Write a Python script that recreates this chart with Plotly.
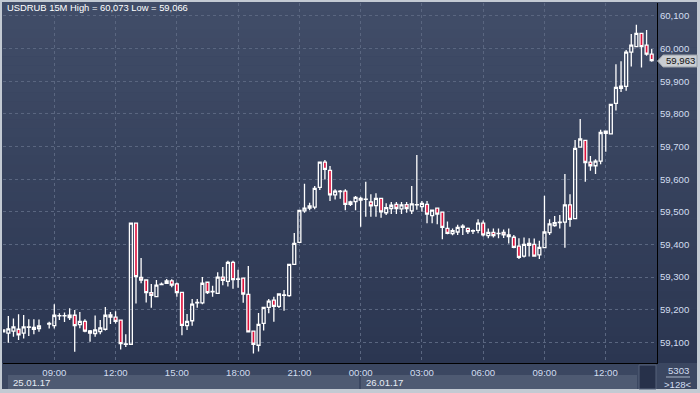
import plotly.graph_objects as go

# ---------------- data ----------------
bar_times = [
    # 25.01.17
    "25 06:30", "25 06:45", "25 07:00", "25 07:15", "25 07:30", "25 07:45", "25 08:00", "25 08:15", "25 08:45",
    "25 09:00", "25 09:15", "25 09:30", "25 09:45", "25 10:00", "25 10:15", "25 10:30", "25 10:45", "25 11:00", "25 11:15", "25 11:30", "25 11:45",
    "25 12:00", "25 12:15", "25 12:30", "25 12:45", "25 13:00", "25 13:15", "25 13:30", "25 13:45", "25 14:00", "25 14:15", "25 14:30", "25 14:45",
    "25 15:00", "25 15:15", "25 15:30", "25 15:45", "25 16:00", "25 16:15", "25 16:30", "25 16:45", "25 17:00", "25 17:15", "25 17:30", "25 17:45",
    "25 18:00", "25 18:15", "25 18:30", "25 18:45", "25 19:00", "25 19:15", "25 19:30", "25 19:45", "25 20:00", "25 20:15", "25 20:30", "25 20:45",
    "25 21:00", "25 21:15", "25 21:30", "25 21:45", "25 22:00", "25 22:15", "25 22:30", "25 22:45", "25 23:00", "25 23:15", "25 23:30", "25 23:45",
    # 26.01.17
    "26 00:00", "26 00:15", "26 00:30", "26 00:45", "26 01:00", "26 01:15", "26 01:30", "26 01:45", "26 02:00", "26 02:15", "26 02:30", "26 02:45",
    "26 03:00", "26 03:15", "26 03:30", "26 03:45", "26 04:00", "26 04:15", "26 04:30", "26 04:45", "26 05:00", "26 05:15", "26 05:30", "26 05:45",
    "26 06:00", "26 06:15", "26 06:30", "26 06:45", "26 07:00", "26 07:15", "26 07:30", "26 07:45", "26 08:00", "26 08:15", "26 08:30", "26 08:45",
    "26 09:00", "26 09:15", "26 09:30", "26 09:45", "26 10:00", "26 10:15", "26 10:30", "26 10:45", "26 11:00", "26 11:15", "26 11:30", "26 11:45",
    "26 12:00", "26 12:15", "26 12:30", "26 12:45", "26 13:00", "26 13:15", "26 13:30", "26 13:45", "26 14:00", "26 14:15",
]

opens = [
    59.138, 59.128, 59.134, 59.140, 59.128, 59.146, 59.146, 59.142, 59.156,
    59.151, 59.181, 59.181, 59.183, 59.183, 59.154, 59.164, 59.135, 59.127, 59.133, 59.140, 59.184,
    59.177, 59.168, 59.094, 59.094, 59.465, 59.299, 59.291, 59.252, 59.240, 59.277, 59.281, 59.288,
    59.279, 59.253, 59.151, 59.166, 59.221, 59.221, 59.284, 59.255, 59.250, 59.300, 59.287, 59.345,
    59.293, 59.297, 59.247, 59.134, 59.091, 59.158, 59.207, 59.229, 59.210, 59.244, 59.243, 59.339,
    59.406, 59.503, 59.511, 59.514, 59.575, 59.652, 59.627, 59.552, 59.562, 59.563, 59.523, 59.531,
    59.541, 59.538, 59.530, 59.519, 59.541, 59.497, 59.510, 59.523, 59.509, 59.522, 59.503, 59.521,
    59.516, 59.523, 59.488, 59.511, 59.499, 59.449, 59.433, 59.438, 59.456, 59.449, 59.441, 59.443,
    59.465, 59.427, 59.437, 59.433, 59.437, 59.429, 59.422, 59.395, 59.364, 59.403, 59.400, 59.368,
    59.390, 59.436, 59.458, 59.467, 59.468, 59.521, 59.479, 59.698, 59.719, 59.652, 59.641, 59.655,
    59.747, 59.739, 59.832, 59.878, 59.884, 59.989, 60.006, 60.047, 60.011, 59.983,
]

highs = [
    59.140, 59.181, 59.173, 59.186, 59.184, 59.171, 59.171, 59.170, 59.163,
    59.217, 59.189, 59.191, 59.204, 59.199, 59.193, 59.171, 59.138, 59.182, 59.168, 59.208, 59.193,
    59.195, 59.169, 59.125, 59.465, 59.465, 59.358, 59.291, 59.279, 59.291, 59.283, 59.294, 59.293,
    59.283, 59.253, 59.187, 59.233, 59.233, 59.300, 59.284, 59.273, 59.315, 59.331, 59.350, 59.350,
    59.322, 59.297, 59.334, 59.134, 59.190, 59.209, 59.233, 59.240, 59.250, 59.260, 59.339, 59.435,
    59.504, 59.586, 59.528, 59.579, 59.652, 59.659, 59.640, 59.569, 59.567, 59.569, 59.534, 59.548,
    59.546, 59.592, 59.554, 59.557, 59.541, 59.526, 59.530, 59.530, 59.530, 59.530, 59.579, 59.674,
    59.533, 59.533, 59.505, 59.511, 59.499, 59.470, 59.449, 59.460, 59.462, 59.452, 59.446, 59.477,
    59.473, 59.449, 59.449, 59.449, 59.446, 59.449, 59.429, 59.419, 59.421, 59.419, 59.418, 59.411,
    59.549, 59.477, 59.487, 59.490, 59.616, 59.554, 59.720, 59.784, 59.719, 59.671, 59.661, 59.751,
    59.747, 59.829, 59.952, 59.961, 59.996, 60.045, 60.073, 60.047, 60.057, 59.999,
]

lows = [
    59.130, 59.099, 59.117, 59.107, 59.112, 59.119, 59.125, 59.132, 59.142,
    59.142, 59.168, 59.162, 59.168, 59.071, 59.143, 59.131, 59.102, 59.117, 59.125, 59.136, 59.156,
    59.158, 59.078, 59.086, 59.094, 59.219, 59.281, 59.222, 59.206, 59.240, 59.275, 59.279, 59.269,
    59.240, 59.122, 59.138, 59.151, 59.206, 59.217, 59.248, 59.240, 59.250, 59.275, 59.271, 59.264,
    59.267, 59.221, 59.130, 59.066, 59.072, 59.136, 59.189, 59.163, 59.205, 59.197, 59.240, 59.339,
    59.406, 59.497, 59.505, 59.508, 59.567, 59.599, 59.533, 59.538, 59.540, 59.505, 59.518, 59.505,
    59.454, 59.485, 59.485, 59.485, 59.482, 59.490, 59.493, 59.493, 59.493, 59.497, 59.493, 59.506,
    59.500, 59.465, 59.465, 59.462, 59.416, 59.431, 59.428, 59.429, 59.429, 59.432, 59.432, 59.434,
    59.424, 59.419, 59.421, 59.419, 59.420, 59.403, 59.388, 59.355, 59.360, 59.363, 59.363, 59.355,
    59.390, 59.429, 59.454, 59.449, 59.390, 59.454, 59.479, 59.698, 59.592, 59.626, 59.616, 59.646,
    59.684, 59.739, 59.810, 59.867, 59.871, 59.945, 60.006, 59.942, 59.978, 59.960,
]

closes = [
    59.132, 59.141, 59.147, 59.123, 59.147, 59.147, 59.140, 59.150, 59.158,
    59.183, 59.182, 59.182, 59.176, 59.151, 59.164, 59.134, 59.128, 59.138, 59.144, 59.183, 59.177,
    59.164, 59.096, 59.095, 59.465, 59.301, 59.291, 59.252, 59.244, 59.275, 59.278, 59.288, 59.275,
    59.252, 59.152, 59.164, 59.217, 59.222, 59.281, 59.252, 59.256, 59.300, 59.290, 59.345, 59.292,
    59.294, 59.248, 59.132, 59.094, 59.155, 59.207, 59.226, 59.210, 59.248, 59.245, 59.339, 59.403,
    59.504, 59.511, 59.518, 59.572, 59.652, 59.630, 59.552, 59.563, 59.563, 59.523, 59.530, 59.544,
    59.536, 59.539, 59.518, 59.541, 59.500, 59.513, 59.520, 59.510, 59.521, 59.510, 59.524, 59.522,
    59.526, 59.493, 59.505, 59.493, 59.452, 59.434, 59.442, 59.452, 59.452, 59.439, 59.442, 59.465,
    59.429, 59.437, 59.427, 59.434, 59.429, 59.424, 59.391, 59.360, 59.400, 59.397, 59.364, 59.391,
    59.438, 59.463, 59.467, 59.468, 59.521, 59.477, 59.694, 59.723, 59.651, 59.641, 59.655, 59.743,
    59.740, 59.829, 59.881, 59.885, 59.989, 60.011, 60.047, 60.006, 59.983, 59.963,
]

x_tick_times = ["25 09:00", "25 12:00", "25 15:00", "25 18:00", "25 21:00",
                "26 00:00", "26 03:00", "26 06:00", "26 09:00", "26 12:00"]
x_tick_labels = ["09:00", "12:00", "15:00", "18:00", "21:00",
                 "00:00", "03:00", "06:00", "09:00", "12:00"]
y_tick_values = [59.1, 59.2, 59.3, 59.4, 59.5, 59.6, 59.7, 59.8, 59.9, 60.0, 60.1]
y_tick_labels = ["59,100", "59,200", "59,300", "59,400", "59,500", "59,600",
                 "59,700", "59,800", "59,900", "60,000", "60,100"]
date_labels = ["25.01.17", "26.01.17"]
title_text = "USDRUB 15M High = 60,073 Low = 59,066"
last_price_label = "59,963"
corner_top = "5303"
corner_bottom = ">128<"

# ---------------- geometry helpers ----------------
W, H = 700, 393
ML, MR, MT, MB = 3, 43, 3, 30
PW, PH = W - ML - MR, H - MT - MB


def px(x):
    return (x - ML) / PW


def py(y):
    return (H - MB - y) / PH


def ts(s):
    return "2017-01-" + s


xs = [ts(s) for s in bar_times]

FONT = "Liberation Sans, Arial, sans-serif"
LABEL_COLOR = "#d3def0"
FS = 9.6

fig = go.Figure()
fig.add_trace(go.Candlestick(
    x=xs, open=opens, high=highs, low=lows, close=closes,
    increasing=dict(line=dict(color="#ffffff", width=1.3), fillcolor="rgba(0,0,0,0)"),
    decreasing=dict(line=dict(color="#ffffff", width=1.3), fillcolor="#e0123c"),
    whiskerwidth=0, hoverinfo="skip", showlegend=False,
))

shapes = []
shapes.append(dict(type="rect", xref="paper", yref="paper", x0=px(2), x1=px(697), y0=py(389), y1=py(2),
                   fillcolor="#3a4660", line=dict(width=0), layer="below"))
top_c = (0x41, 0x4d, 0x68)
bot_c = (0x2b, 0x36, 0x51)
n = 40
y_top, y_bot = 2, 363
for i in range(n):
    y0 = y_top + (y_bot - y_top) * i / n
    y1 = y_top + (y_bot - y_top) * (i + 1) / n
    t = (i + 0.5) / n
    c = tuple(round(top_c[j] + (bot_c[j] - top_c[j]) * t) for j in range(3))
    shapes.append(dict(type="rect", xref="paper", yref="paper", x0=px(2), x1=px(697), y0=py(y1), y1=py(y0),
                       fillcolor="rgb(%d,%d,%d)" % c, line=dict(width=0), layer="below"))
shapes.append(dict(type="rect", xref="paper", yref="paper", x0=px(2), x1=px(697), y0=py(389), y1=py(363),
                   fillcolor="#3b4761", line=dict(width=0), layer="below"))
shapes.append(dict(type="rect", xref="paper", yref="paper", x0=px(8), x1=px(359), y0=py(389), y1=py(375),
                   fillcolor="#4e5a72", line=dict(width=0), layer="below"))
shapes.append(dict(type="rect", xref="paper", yref="paper", x0=px(361), x1=px(637), y0=py(389), y1=py(375),
                   fillcolor="#4e5a72", line=dict(width=0), layer="below"))
shapes.append(dict(type="rect", xref="paper", yref="paper", x0=px(639), x1=px(656), y0=py(389), y1=py(365),
                   fillcolor="#27314a", line=dict(color="#56627a", width=1), layer="below"))
shapes.append(dict(type="line", xref="paper", yref="paper", x0=px(666), x1=px(690), y0=py(377), y1=py(377),
                   line=dict(color="#aab6c8", width=1), layer="above"))
lp_y = py(61)
hh = 6 / PH
path = "M %f,%f L %f,%f L %f,%f L %f,%f L %f,%f Z" % (
    px(657.5), lp_y, px(663), lp_y + hh, px(697), lp_y + hh, px(697), lp_y - hh, px(663), lp_y - hh)
shapes.append(dict(type="path", xref="paper", yref="paper", path=path,
                   fillcolor="#c9cdd2", line=dict(color="#9aa0a8", width=1), layer="above"))

annotations = [
    dict(text=title_text, xref="paper", yref="paper", x=px(5), y=py(8), xanchor="left", yanchor="middle",
         showarrow=False, font=dict(family=FONT, size=9.4, color="#ffffff")),
    dict(text=date_labels[0], xref="paper", yref="paper", x=px(11), y=py(382), xanchor="left", yanchor="middle",
         showarrow=False, font=dict(family=FONT, size=FS, color="#e6ecf4")),
    dict(text=date_labels[1], xref="paper", yref="paper", x=px(364), y=py(382), xanchor="left", yanchor="middle",
         showarrow=False, font=dict(family=FONT, size=FS, color="#e6ecf4")),
    dict(text=corner_top, xref="paper", yref="paper", x=px(678), y=py(370), xanchor="center", yanchor="middle",
         showarrow=False, font=dict(family=FONT, size=FS, color=LABEL_COLOR)),
    dict(text=corner_bottom, xref="paper", yref="paper", x=px(678), y=py(384), xanchor="center", yanchor="middle",
         showarrow=False, font=dict(family=FONT, size=FS, color=LABEL_COLOR)),
    dict(text=last_price_label, xref="paper", yref="paper", x=px(664), y=py(61), xanchor="left", yanchor="middle",
         showarrow=False, font=dict(family=FONT, size=FS, color="#111111")),
]

fig.update_layout(
    width=W, height=H,
    margin=dict(l=ML, r=MR, t=MT, b=MB, pad=0, autoexpand=False),
    paper_bgcolor="#c3cad3",
    plot_bgcolor="rgba(0,0,0,0)",
    showlegend=False,
    boxgap=0.18,
    shapes=shapes,
    annotations=annotations,
    xaxis=dict(
        type="date",
        range=["2017-01-25 06:29:18", "2017-01-26 14:30:36"],
        rangeslider=dict(visible=False),
        tickvals=[ts(s) for s in x_tick_times], ticktext=x_tick_labels,
        showgrid=True, gridcolor="#5a6680", griddash="3px,3px", gridwidth=1,
        showline=True, linecolor="#000000", linewidth=1, mirror=False,
        ticks="", zeroline=False, fixedrange=True, automargin=False,
        tickfont=dict(family=FONT, size=FS, color=LABEL_COLOR),
    ),
    yaxis=dict(
        side="right",
        range=[59.0366, 60.1398],
        tickvals=y_tick_values, ticktext=y_tick_labels,
        showgrid=True, gridcolor="#5a6680", griddash="3px,3px", gridwidth=1,
        showline=True, linecolor="#000000", linewidth=1,
        ticks="", zeroline=False, fixedrange=True, automargin=False,
        tickfont=dict(family=FONT, size=FS, color=LABEL_COLOR),
    ),
)

fig.write_html("out.html", config={"displayModeBar": False, "staticPlot": True},
               post_script="document.body.style.margin='0';document.body.style.padding='0';")
